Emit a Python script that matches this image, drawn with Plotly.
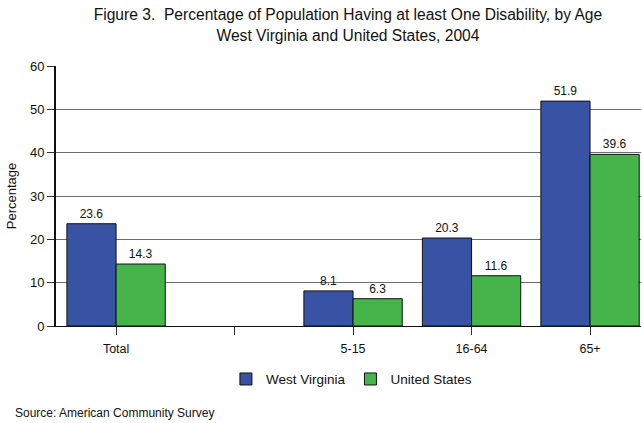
import plotly.graph_objects as go

categories = ["Total", " ", "5-15", "16-64", "65+"]
west_virginia = [23.6, None, 8.1, 20.3, 51.9]
united_states = [14.3, None, 6.3, 11.6, 39.6]
y_ticks = [0, 10, 20, 30, 40, 50, 60]

FONT = "Liberation Sans, Arial, Helvetica, sans-serif"

def labels(vals):
    return [("" if v is None else f"{v:.1f}") for v in vals]

fig = go.Figure()
fig.add_trace(go.Bar(
    x=categories, y=west_virginia, name="West Virginia",
    marker=dict(color="#3953A4", line=dict(color="#111111", width=1)),
    text=labels(west_virginia), textposition="outside", cliponaxis=False,
    textfont=dict(size=12, color="#111111", family=FONT),
))
fig.add_trace(go.Bar(
    x=categories, y=united_states, name="United States",
    marker=dict(color="#45B449", line=dict(color="#111111", width=1)),
    text=labels(united_states), textposition="outside", cliponaxis=False,
    textfont=dict(size=12, color="#111111", family=FONT),
))

fig.update_layout(
    width=642, height=423,
    margin=dict(l=56, r=1, t=66, b=97),
    paper_bgcolor="white", plot_bgcolor="white",
    font=dict(family=FONT, color="#111111", size=12),
    barmode="group", bargap=0.17, bargroupgap=0,
    title=dict(
        text="Figure 3.  Percentage of Population Having at least One Disability, by Age<br>West Virginia and United States, 2004",
        x=0.542, xanchor="center", y=0.952, yanchor="top",
        font=dict(size=15.6, family=FONT, color="#111111"),
    ),
    legend=dict(
        orientation="h", x=0.505, xanchor="center", y=-0.145, yanchor="top",
        font=dict(size=13.5, family=FONT), itemwidth=30,
    ),
    showlegend=True,
)
fig.update_xaxes(
    type="category", categoryorder="array", categoryarray=categories,
    range=[-0.507, 4.43],
    ticks="outside", ticklen=8, tickcolor="#333333", tickwidth=1,
    showline=True, linecolor="#111111", linewidth=1,
    showgrid=False, tickfont=dict(size=12.5), ticklabelstandoff=3,
)
fig.update_yaxes(
    range=[0, 60], tickvals=y_ticks,
    ticks="outside", ticklen=7, tickcolor="#333333",
    showline=True, linecolor="#111111", linewidth=2,
    showgrid=True, gridcolor="#6e6e6e", gridwidth=1,
    zeroline=False, tickfont=dict(size=13),
    title=dict(text="Percentage", font=dict(size=13), standoff=10),
)
fig.add_annotation(
    text="Source: American Community Survey", xref="paper", yref="paper",
    x=-0.073, y=-0.336, xanchor="left", yanchor="middle", showarrow=False,
    font=dict(size=12, family=FONT),
)

fig.write_html("out.html")
